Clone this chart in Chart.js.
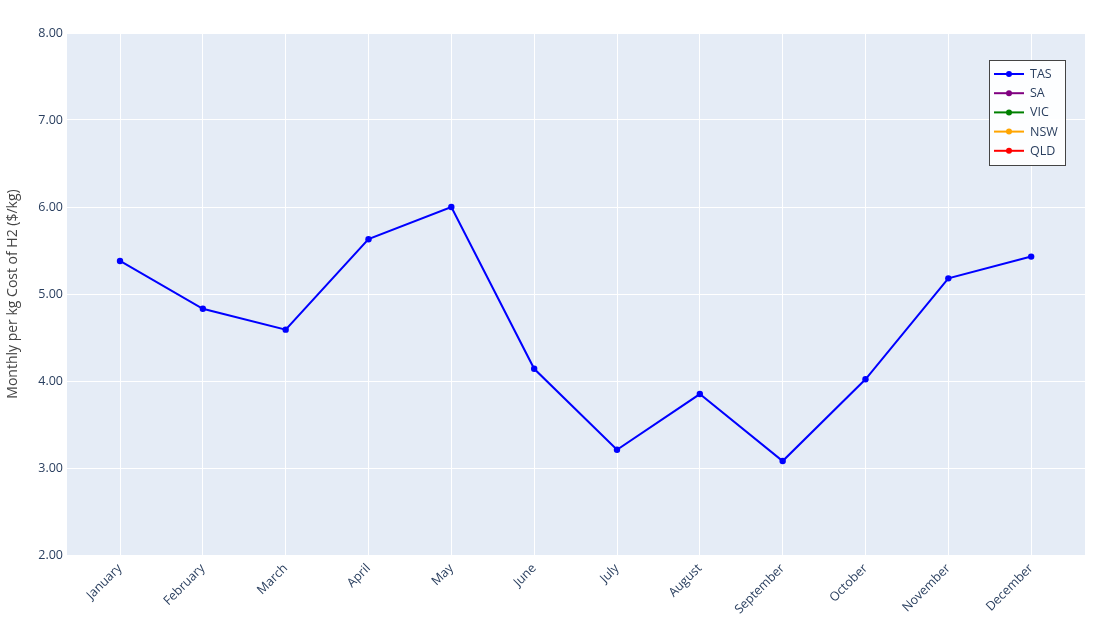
<!DOCTYPE html>
<html>
<head>
<meta charset="utf-8">
<script src="https://cdn.jsdelivr.net/npm/chart.js@4"></script>
<style>
  html, body { margin: 0; padding: 0; background: #fff; }
  #wrap { width: 1116px; height: 628px; position: relative; }
</style>
</head>
<body>
<div id="wrap"><canvas id="costChart" width="1116" height="628"></canvas></div>
<script>
const months = ["January", "February", "March", "April", "May", "June",
  "July", "August", "September", "October", "November", "December"];

// $/kg per month
const tasCost = [5.38, 4.83, 4.59, 5.63, 6.00, 4.14, 3.21, 3.85, 3.08, 4.02, 5.18, 5.43];
const saCost = [];
const vicCost = [];
const nswCost = [];
const qldCost = [];

const seriesNames = ["TAS", "SA", "VIC", "NSW", "QLD"];
const seriesColors = ["blue", "purple", "green", "orange", "red"];
const seriesData = [tasCost, saCost, vicCost, nswCost, qldCost];

const yTicks = [2, 3, 4, 5, 6, 7, 8];

const tickColor = "#2a3f5f";
const fontFamily = "'Open Sans', Verdana, Arial, sans-serif";

// plot background
const plotBg = {
  id: "plotBg",
  beforeDraw(chart) {
    const { ctx, chartArea: a } = chart;
    ctx.save();
    ctx.fillStyle = "#E5ECF6";
    ctx.fillRect(a.left, a.top, a.right - a.left, a.bottom - a.top);
    ctx.restore();
  }
};

// plotly-like legend box in the top right
const boxLegend = {
  id: "boxLegend",
  afterDraw(chart) {
    const ctx = chart.ctx;
    const x = 989.5, y = 60.5, w = 76, h = 105;
    ctx.save();
    ctx.fillStyle = "rgba(255,255,255,0.92)";
    ctx.fillRect(x, y, w, h);
    ctx.strokeStyle = "#444";
    ctx.lineWidth = 1;
    ctx.strokeRect(x, y, w, h);
    ctx.font = "12.5px " + fontFamily;
    ctx.textBaseline = "middle";
    chart.data.datasets.forEach((ds, i) => {
      const cy = 74 + i * 19.2;
      ctx.strokeStyle = ds.borderColor;
      ctx.lineWidth = 2;
      ctx.beginPath();
      ctx.moveTo(994, cy);
      ctx.lineTo(1024, cy);
      ctx.stroke();
      ctx.fillStyle = ds.borderColor;
      ctx.beginPath();
      ctx.arc(1009, cy, 3, 0, Math.PI * 2);
      ctx.fill();
      ctx.fillStyle = tickColor;
      ctx.fillText(ds.label, 1030, cy + 0.5);
    });
    ctx.restore();
  }
};

const ctx = document.getElementById("costChart").getContext("2d");

new Chart(ctx, {
  type: "line",
  data: {
    datasets: seriesNames.map((name, i) => ({
      label: name,
      data: seriesData[i].map((v, j) => ({ x: j, y: v })),
      borderColor: seriesColors[i],
      backgroundColor: seriesColors[i],
      borderWidth: 2,
      pointRadius: 3.2,
      pointBorderWidth: 0,
      pointHoverRadius: 3.2,
      tension: 0
    }))
  },
  options: {
    responsive: false,
    animation: false,
    devicePixelRatio: 1,
    layout: { padding: { top: 33, right: 31, left: 0, bottom: 0 } },
    plugins: {
      legend: { display: false },
      tooltip: { enabled: false }
    },
    scales: {
      x: {
        type: "linear",
        min: -0.64,
        max: 11.65,
        afterBuildTicks: (scale) => {
          scale.ticks = months.map((m, i) => ({ value: i }));
        },
        afterFit: (scale) => { scale.height = 73; },
        grid: { color: "#ffffff", lineWidth: 1, drawTicks: false },
        border: { display: false },
        ticks: {
          color: tickColor,
          font: { family: fontFamily, size: 12.5 },
          maxRotation: 45,
          minRotation: 45,
          autoSkip: false,
          padding: 6,
          callback: (v) => months[v]
        }
      },
      y: {
        min: 2,
        max: 8,
        afterBuildTicks: (scale) => {
          scale.ticks = yTicks.map(v => ({ value: v }));
        },
        afterFit: (scale) => { scale.width = 67; },
        grid: { color: "#ffffff", lineWidth: 1, drawTicks: false },
        border: { display: false },
        ticks: {
          color: tickColor,
          font: { family: fontFamily, size: 12.5 },
          padding: 4,
          callback: (v) => v.toFixed(2)
        },
        title: {
          display: true,
          text: "Monthly per kg Cost of H2 ($/kg)",
          color: "#444",
          font: { family: fontFamily, size: 14 },
          padding: { top: 5, bottom: 0 }
        }
      }
    }
  },
  plugins: [plotBg, boxLegend]
});
</script>
</body>
</html>
